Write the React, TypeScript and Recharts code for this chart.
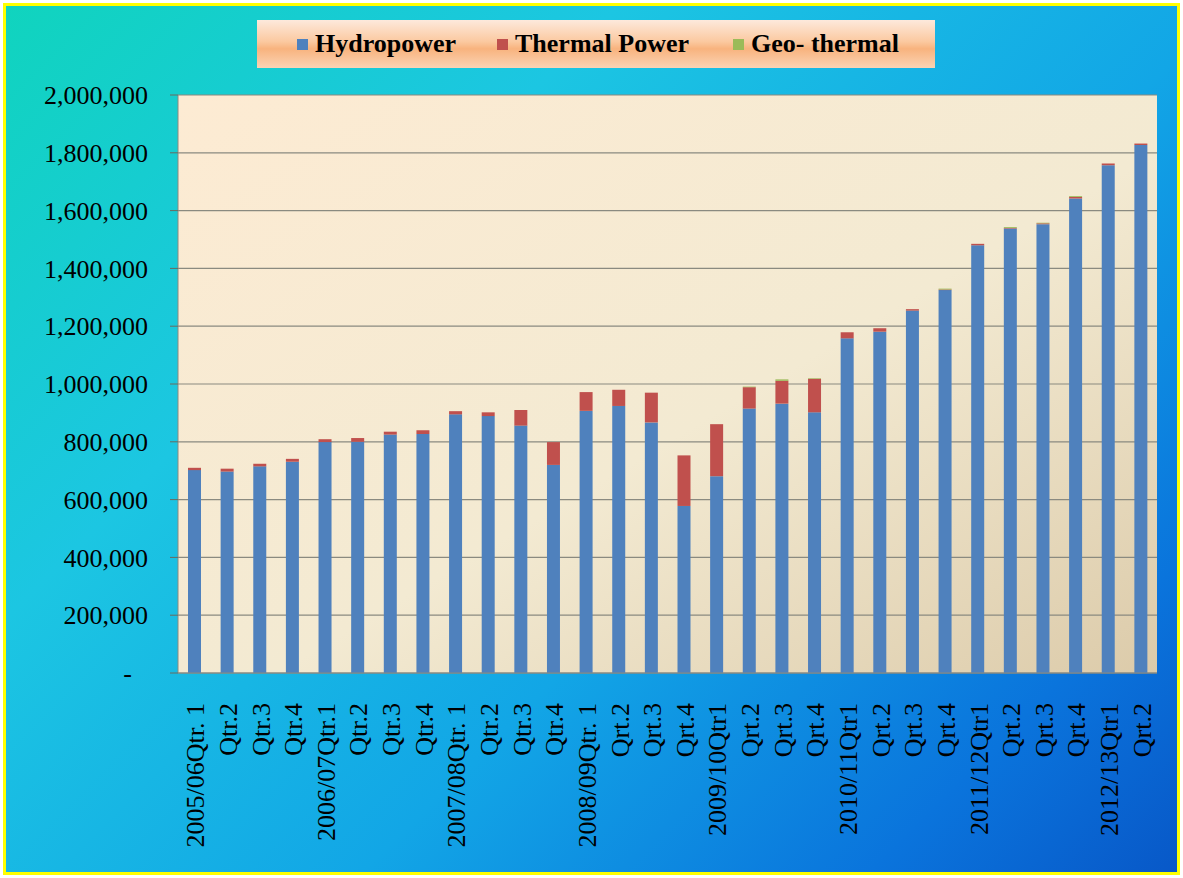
import { BarChart, Bar, XAxis, YAxis, CartesianGrid, Legend } from 'recharts';

const quarters = [
  '2005/06Qtr. 1', 'Qtr.2', 'Qtr.3', 'Qtr.4',
  '2006/07Qtr.1', 'Qtr.2', 'Qtr.3', 'Qtr.4',
  '2007/08Qtr. 1', 'Qtr.2', 'Qtr.3', 'Qtr.4',
  '2008/09Qtr. 1', 'Qrt.2', 'Qrt.3', 'Qrt.4',
  '2009/10Qtr1', 'Qrt.2', 'Qrt.3', 'Qrt.4',
  '2010/11Qtr1', 'Qrt.2', 'Qrt.3', 'Qrt.4',
  '2011/12Qtr1', 'Qrt.2', 'Qrt.3', 'Qrt.4',
  '2012/13Qtr1', 'Qrt.2',
];

const hydropower = [
  702000, 697000, 715000, 731000, 799000, 800000, 825000, 827000, 895000, 889000,
  856000, 720000, 907000, 924000, 867000, 578000, 681000, 915000, 932000, 902000,
  1158000, 1181000, 1254000, 1325000, 1480000, 1538000, 1553000, 1642000, 1757000, 1827000,
];

const thermalPower = [
  8000, 10000, 9000, 10000, 10000, 13000, 10000, 13000, 11000, 13000,
  54000, 79000, 65000, 56000, 103000, 175000, 180000, 74000, 79000, 116000,
  21000, 12000, 5000, 2000, 5000, 2000, 3000, 5000, 6000, 5000,
];

const geoThermal = [
  0, 0, 0, 0, 0, 0, 0, 0, 0, 0,
  0, 0, 0, 0, 0, 0, 0, 2000, 5000, 2000,
  0, 0, 0, 3000, 0, 3000, 2000, 3000, 0, 0,
];

const yTicks = [0, 200000, 400000, 600000, 800000, 1000000, 1200000, 1400000, 1600000, 1800000, 2000000];

const data = quarters.map((q, i) => ({
  name: q,
  hydro: hydropower[i],
  thermal: thermalPower[i],
  geo: geoThermal[i],
}));

const FONT = '"Liberation Serif", "Times New Roman", serif';

const legendItems = [
  { label: 'Hydropower', color: '#4F81BD', left: 40 },
  { label: 'Thermal Power', color: '#C0504D', left: 240 },
  { label: 'Geo- thermal', color: '#9BBB59', left: 476 },
];

const LegendBox = () => (
  <div
    style={{
      position: 'relative',
      width: 678,
      height: 48,
      background: 'linear-gradient(180deg, #fde9dc 0%, #fbc9a0 45%, #f8b37e 60%, #fbd3b4 100%)',
      fontFamily: FONT,
      fontWeight: 'bold',
      fontSize: 26,
      color: '#000',
      whiteSpace: 'nowrap',
    }}
  >
    {legendItems.map((it) => (
      <div
        key={it.label}
        style={{ position: 'absolute', left: it.left, top: 0, height: 48, display: 'flex', alignItems: 'center' }}
      >
        <span style={{ width: 11, height: 11, background: it.color, marginRight: 7, display: 'inline-block' }} />
        <span>{it.label}</span>
      </div>
    ))}
  </div>
);

const YTick = (props: any) => {
  const { x, y, payload } = props;
  const v = payload.value as number;
  return (
    <text x={v === 0 ? x - 16 : x} y={y} dy="0.355em" textAnchor="end" fontFamily={FONT} fontSize={26} fill="#000">
      {v === 0 ? '-' : v.toLocaleString('en-US')}
    </text>
  );
};

const XTick = (props: any) => {
  const { x, y, payload } = props;
  return (
    <text
      transform={`translate(${x + 10},${y + 22}) rotate(-90)`}
      textAnchor="end"
      fontFamily={FONT}
      fontSize={26}
      fill="#000"
    >
      {payload.value}
    </text>
  );
};

export default function App() {
  return (
    <div style={{ position: 'absolute', left: 0, top: 0, width: 1183, height: 878, background: '#fff' }}>
      <div
        style={{
          position: 'absolute',
          left: 3,
          top: 3,
          width: 1177,
          height: 872,
          boxSizing: 'border-box',
          border: '3px solid #ffff00',
          background: 'linear-gradient(135deg, #10d4be 0%, #1cc6e2 30%, #12a6e6 60%, #0a74dc 85%, #0858c8 100%)',
        }}
      />
      <div style={{ position: 'absolute', left: 0, top: 0 }}>
        <BarChart
          width={1183}
          height={878}
          data={data}
          margin={{ top: 95, right: 26, bottom: 0, left: 0 }}
          barSize={13}
        >
          <defs>
            <linearGradient id="plotBg" x1="0" y1="0" x2="1" y2="1">
              <stop offset="0%" stopColor="#fdebd3" />
              <stop offset="55%" stopColor="#f3ead2" />
              <stop offset="100%" stopColor="#dccbaa" />
            </linearGradient>
          </defs>
          <CartesianGrid vertical={false} fill="url(#plotBg)" fillOpacity={1} stroke="#8a8a80" strokeWidth={1.2} />
          <XAxis
            dataKey="name"
            interval={0}
            height={205}
            tick={<XTick />}
            tickLine={false}
            axisLine={{ stroke: '#8a8a80' }}
          />
          <YAxis
            domain={[0, 2000000]}
            ticks={yTicks}
            width={178}
            tickSize={8}
            tickMargin={22}
            tick={<YTick />}
            tickLine={{ stroke: '#6a6a60' }}
            axisLine={{ stroke: '#8a8a80' }}
            interval={0}
          />
          <YAxis yAxisId="r" orientation="right" width={0} tick={false} tickLine={false} axisLine={{ stroke: '#a0304a', strokeWidth: 2 }} />
          <Legend
            layout="horizontal"
            verticalAlign="middle"
            align="center"
            wrapperStyle={{ top: 20, left: 257, width: 678, height: 48 }}
            content={<LegendBox />}
          />
          <Bar dataKey="hydro" name="Hydropower" stackId="a" fill="#4F81BD" isAnimationActive={false} />
          <Bar dataKey="thermal" name="Thermal Power" stackId="a" fill="#C0504D" isAnimationActive={false} />
          <Bar dataKey="geo" name="Geo- thermal" stackId="a" fill="#9BBB59" isAnimationActive={false} />
        </BarChart>
      </div>
    </div>
  );
}
